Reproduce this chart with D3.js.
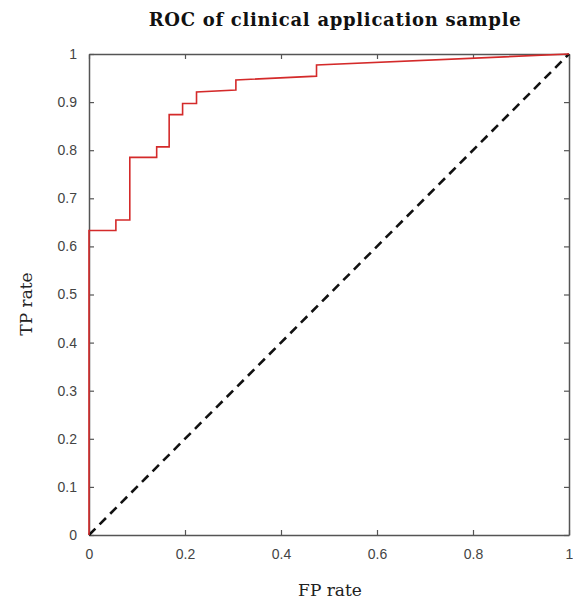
<!DOCTYPE html>
<html>
<head>
<meta charset="utf-8">
<script src="https://cdn.jsdelivr.net/npm/d3@7"></script>
<style>
  body { margin: 0; background: #fff; }
  svg { display: block; }
</style>
</head>
<body>
<svg id="chart"></svg>
<script>
// ROC curve points (FP rate, TP rate)
const fpRate = [0, 0, 0.056, 0.056, 0.085, 0.085, 0.141, 0.141, 0.167, 0.167, 0.195, 0.195, 0.224, 0.224, 0.306, 0.306, 0.474, 0.474, 1];
const tpRate = [0, 0.633, 0.633, 0.655, 0.655, 0.785, 0.785, 0.807, 0.807, 0.874, 0.874, 0.897, 0.897, 0.921, 0.925, 0.946, 0.954, 0.977, 1];
const chanceLine = [[0, 0], [1, 1]];
const xTicks = [0, 0.2, 0.4, 0.6, 0.8, 1];
const yTicks = [0, 0.1, 0.2, 0.3, 0.4, 0.5, 0.6, 0.7, 0.8, 0.9, 1];

const W = 573, H = 604;
const margin = { top: 54, right: 4, bottom: 69, left: 89 };
const width = W - margin.left - margin.right;
const height = H - margin.top - margin.bottom;

const svg = d3.select('#chart')
  .attr('width', W)
  .attr('height', H);

svg.append('text')
  .attr('x', 335)
  .attr('y', 26)
  .attr('text-anchor', 'middle')
  .style('font-family', 'DejaVu Serif')
  .style('font-weight', 'bold')
  .style('font-size', '18px')
  .style('letter-spacing', '0.7px')
  .style('fill', '#111')
  .text('ROC of clinical application sample');

const g = svg.append('g')
  .attr('transform', 'translate(' + margin.left + ',' + margin.top + ')');

const x = d3.scaleLinear().domain([0, 1]).range([0, width]);
const y = d3.scaleLinear().domain([0, 1]).range([height, 0]);

const fmt = d => d === 0 || d === 1 ? String(d) : d3.format('.1f')(d);
const axisColor = '#555';

// bottom / left axes with inward ticks and labels
const xAxis = g.append('g')
  .attr('transform', 'translate(0,' + height + ')')
  .call(d3.axisBottom(x).tickValues(xTicks).tickFormat(fmt).tickSizeInner(-5).tickSizeOuter(0).tickPadding(14));

const yAxis = g.append('g')
  .call(d3.axisLeft(y).tickValues(yTicks).tickFormat(fmt).tickSizeInner(-5).tickSizeOuter(0).tickPadding(12));

// top / right mirror ticks
const xTop = g.append('g')
  .call(d3.axisTop(x).tickValues(xTicks).tickFormat('').tickSizeInner(-5).tickSizeOuter(0));
const yRight = g.append('g')
  .attr('transform', 'translate(' + width + ',0)')
  .call(d3.axisRight(y).tickValues(yTicks).tickFormat('').tickSizeInner(-5).tickSizeOuter(0));

[xAxis, yAxis, xTop, yRight].forEach(a => {
  a.select('.domain').attr('stroke', axisColor).attr('stroke-width', 1.5);
  a.selectAll('.tick line').attr('stroke', axisColor).attr('stroke-width', 1.2);
  a.selectAll('.tick text')
    .style('font-family', 'Liberation Sans, Arial, sans-serif')
    .style('font-size', '14px')
    .style('fill', '#444');
});

// chance diagonal
g.append('path')
  .datum(chanceLine)
  .attr('d', d3.line().x(d => x(d[0])).y(d => y(d[1])))
  .attr('fill', 'none')
  .attr('stroke', '#111')
  .attr('stroke-width', 2.6)
  .attr('stroke-dasharray', '9,6');

// ROC curve
const roc = fpRate.map((f, i) => [f, tpRate[i]]);
g.append('path')
  .datum(roc)
  .attr('d', d3.line().x(d => x(d[0])).y(d => y(d[1])))
  .attr('fill', 'none')
  .attr('stroke', '#d42a2a')
  .attr('stroke-width', 1.6);

// axis titles
svg.append('text')
  .attr('x', 330)
  .attr('y', 596)
  .attr('text-anchor', 'middle')
  .style('font-family', 'DejaVu Serif')
  .style('font-size', '17px')
  .style('fill', '#222')
  .text('FP rate');

svg.append('text')
  .attr('transform', 'translate(32,304) rotate(-90)')
  .attr('text-anchor', 'middle')
  .style('font-family', 'DejaVu Serif')
  .style('font-size', '17px')
  .style('fill', '#222')
  .text('TP rate');
</script>
</body>
</html>
